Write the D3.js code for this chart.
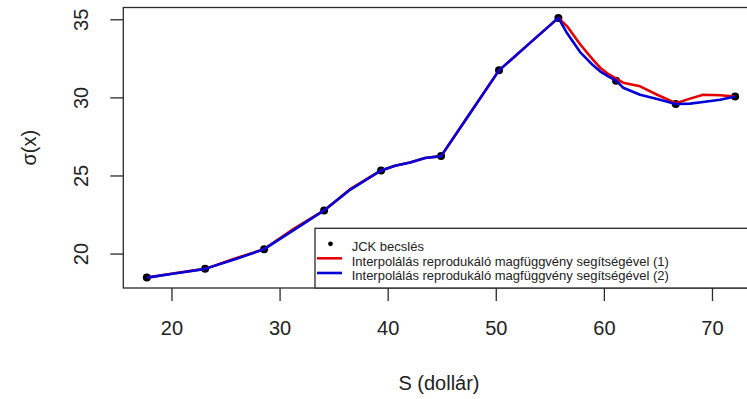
<!DOCTYPE html>
<html>
<head>
<meta charset="utf-8">
<script src="https://cdn.jsdelivr.net/npm/d3@7"></script>
<style>
  html, body { margin: 0; padding: 0; background: #fff; }
  svg { display: block; font-family: "Liberation Sans", Arial, sans-serif; }
</style>
</head>
<body>
<svg id="chart" width="747" height="399"></svg>
<script>
// JCK estimates of sigma(x) at the observed strike prices
const strikes   = [17.72, 23.11, 28.57, 34.12, 39.39, 44.94, 50.30, 55.79, 61.13, 66.65, 72.14];
const jckSigma  = [18.46, 19.02, 20.28, 22.76, 25.32, 26.24, 31.73, 35.09, 31.07, 29.58, 30.06];

// Evaluation grid of the two kernel interpolants
const sGrid = [17.72, 20.43, 23.11, 25.88, 28.57, 31.34, 34.12, 36.52, 39.39, 40.68, 42.07, 43.46,
               44.94, 47.62, 50.30, 53.17, 55.79, 56.60, 57.80, 59.00, 59.65, 60.40, 61.13, 61.78,
               63.35, 64.93, 66.65, 67.97, 69.18, 70.75, 72.14];
const interp1 = [18.46, 18.76, 19.02, 19.68, 20.28, 21.60, 22.76, 24.12, 25.32, 25.62, 25.83, 26.12,
                 26.24, 28.99, 31.73, 33.49, 35.09, 34.55, 33.40, 32.40, 31.90, 31.50, 31.20, 30.94,
                 30.71, 30.17, 29.63, 29.92, 30.17, 30.14, 30.06];
const interp2 = [18.46, 18.74, 19.02, 19.63, 20.28, 21.52, 22.76, 24.08, 25.32, 25.62, 25.83, 26.12,
                 26.24, 28.99, 31.73, 33.49, 35.09, 34.10, 32.90, 32.05, 31.67, 31.35, 31.07, 30.62,
                 30.17, 29.90, 29.58, 29.60, 29.70, 29.85, 30.06];

const xTicks = [20, 30, 40, 50, 60, 70];
const yTicks = [20, 25, 30, 35];

const legendLabels = [
  "JCK becslés",
  "Interpolálás reprodukáló magfüggvény segítségével (1)",
  "Interpolálás reprodukáló magfüggvény segítségével (2)"
];
const seriesColors = ["#e60000", "#0000d8"];

const svg = d3.select("#chart");
const plot = { left: 123.3, top: 7.5, bottom: 288 };

// Axis ranges padded by 4% on each side
const xExt = d3.extent(strikes), yExt = d3.extent(jckSigma);
const xPad = (xExt[1] - xExt[0]) * 0.04, yPad = (yExt[1] - yExt[0]) * 0.04;
const pxPerUnit = 10.81;
const xDomain = [xExt[0] - xPad, xExt[1] + xPad];
plot.right = plot.left + (xDomain[1] - xDomain[0]) * pxPerUnit;

const x = d3.scaleLinear().domain(xDomain).range([plot.left, plot.right]);
const y = d3.scaleLinear().domain([yExt[0] - yPad, yExt[1] + yPad]).range([plot.bottom, plot.top]);

const ink = "#2a2a2a";

// Points
svg.append("g").selectAll("circle")
  .data(strikes.map((s, i) => [s, jckSigma[i]]))
  .join("circle")
  .attr("cx", d => x(d[0]))
  .attr("cy", d => y(d[1]))
  .attr("r", 4)
  .attr("fill", "#000");

// Interpolating curves
const line = d3.line().x(d => x(d[0])).y(d => y(d[1]));
[interp1, interp2].forEach((vals, k) => {
  svg.append("path")
    .datum(sGrid.map((s, i) => [s, vals[i]]))
    .attr("d", line)
    .attr("fill", "none")
    .attr("stroke", seriesColors[k])
    .attr("stroke-width", 2.6)
    .attr("stroke-linejoin", "round");
});

// Plot frame
svg.append("rect")
  .attr("x", plot.left).attr("y", plot.top)
  .attr("width", plot.right - plot.left).attr("height", plot.bottom - plot.top)
  .attr("fill", "none").attr("stroke", ink).attr("stroke-width", 1.3);

// X axis
const xAxis = d3.axisBottom(x).tickValues(xTicks).tickSize(13).tickPadding(20).tickFormat(d3.format("d"));
const gx = svg.append("g").attr("transform", `translate(0,${plot.bottom})`).call(xAxis);
gx.select(".domain").remove();
gx.selectAll(".tick line").attr("stroke", ink).attr("stroke-width", 1.3);
gx.selectAll(".tick text").attr("fill", "#222").attr("font-size", 20)
  .attr("font-family", "Liberation Sans, Arial, sans-serif");

// Y axis with rotated labels
const yAxis = d3.axisLeft(y).tickValues(yTicks).tickSize(13).tickFormat(d3.format("d"));
const gy = svg.append("g").attr("transform", `translate(${plot.left},0)`).call(yAxis);
gy.select(".domain").remove();
gy.selectAll(".tick line").attr("stroke", ink).attr("stroke-width", 1.3);
gy.selectAll(".tick text")
  .attr("fill", "#222").attr("font-size", 20)
  .attr("font-family", "Liberation Sans, Arial, sans-serif")
  .attr("x", null).attr("dy", null)
  .attr("text-anchor", "middle")
  .attr("transform", "translate(-42,0) rotate(-90)")
  .attr("dominant-baseline", "central");

// Axis titles
svg.append("text")
  .attr("x", (plot.left + plot.right) / 2 - 2).attr("y", 383)
  .attr("text-anchor", "middle").attr("dominant-baseline", "central")
  .attr("font-size", 20).attr("fill", "#222")
  .text("S (dollár)");

svg.append("text")
  .attr("transform", `translate(29,${(plot.top + plot.bottom) / 2}) rotate(-90)`)
  .attr("text-anchor", "middle").attr("dominant-baseline", "central")
  .attr("font-size", 20).attr("fill", "#222")
  .text("σ(x)");

// Legend (bottom right of the plot region)
const lg = svg.append("g");
const lgTop = 228.3, lgLeft = 315;
lg.append("rect")
  .attr("x", lgLeft).attr("y", lgTop)
  .attr("width", plot.right - lgLeft).attr("height", plot.bottom - lgTop)
  .attr("fill", "#fff").attr("stroke", ink).attr("stroke-width", 1.3);

const rowBase = [251, 265.5, 280.2];
legendLabels.forEach((label, i) => {
  lg.append("text")
    .attr("x", 351.7).attr("y", rowBase[i])
    .attr("font-size", 13).attr("fill", "#222")
    .text(label);
  const cy = rowBase[i] - 7.2;
  if (i === 0) {
    lg.append("circle").attr("cx", 330.5).attr("cy", cy).attr("r", 2.4).attr("fill", "#000");
  } else {
    lg.append("line")
      .attr("x1", 317).attr("x2", 342).attr("y1", cy).attr("y2", cy)
      .attr("stroke", seriesColors[i - 1]).attr("stroke-width", 2.6);
  }
});
</script>
</body>
</html>
